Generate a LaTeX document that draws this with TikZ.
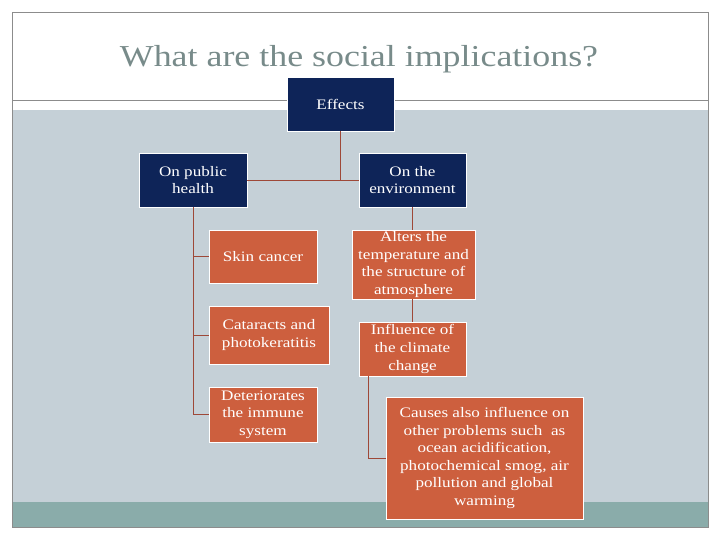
\documentclass[tikz,border=0pt]{standalone}
\usepackage{fontspec}
\setmainfont[FakeStretch=1.18]{Liberation Serif}
\definecolor{navyc}{RGB}{14,36,88}
\definecolor{orangec}{RGB}{205,95,62}
\definecolor{bgc}{RGB}{197,208,215}
\definecolor{tealc}{RGB}{138,172,170}
\definecolor{linkc}{RGB}{158,72,56}
\definecolor{framec}{RGB}{140,140,140}
\definecolor{titlec}{RGB}{120,139,138}
\begin{document}
\begin{tikzpicture}[x=1pt,y=-1pt,
  box/.style={draw=white,line width=0.8pt,align=center,text=white,inner sep=1pt,
    font=\fontsize{14.5}{17.6}\selectfont},
  navybox/.style={box,fill=navyc},
  orangebox/.style={box,fill=orangec},
  link/.style={draw=linkc,line width=0.9pt}]
\useasboundingbox (0,0) rectangle (720,540);
\fill[white] (0,0) rectangle (720,540);
% background regions
\fill[bgc] (12,110) rectangle (708,502);
\fill[tealc] (12,502) rectangle (708,527);
\draw[framec,line width=0.8pt] (12,12) rectangle (708,527);
\draw[framec,line width=0.8pt] (12,100) -- (708,100);
% title
\node[anchor=base,text=titlec,font=\fontsize{30.4}{36}\selectfont] (title) at (359,67) {What are the social implications?};
% nodes
\node[navybox,minimum width=107,minimum height=54] (effects) at (340.5,104) {Effects};
\node[navybox,minimum width=108,minimum height=54] (health) at (193,180) {On public\\health};
\node[navybox,minimum width=107,minimum height=54] (env) at (412.5,180) {On the\\environment};
\node[orangebox,minimum width=108,minimum height=53] (skin) at (263,256.5) {Skin cancer};
\node[orangebox,minimum width=120,minimum height=58] (cat) at (269,335) {Cataracts and\\photokeratitis};
\node[orangebox,minimum width=108,minimum height=55] (det) at (263,414.5) {Deteriorates\\the immune\\system};
\node[orangebox,minimum width=123,minimum height=69] (alters) at (413.5,264.5) {Alters the\\temperature and\\the structure of\\atmosphere};
\node[orangebox,minimum width=107,minimum height=54] (infl) at (412.5,349) {Influence of\\the climate\\change};
\node[orangebox,minimum width=197,minimum height=122] (causes) at (484.5,458) {Causes also influence on\\other problems such\ \ as\\ocean acidification,\\photochemical smog, air\\pollution and global\\warming};
% connectors
\draw[link] (effects.south) -- (effects.south |- health.east);
\draw[link] (health.east) -- (env.west);
\draw[link] (health.south) |- (det.west);
\draw[link] (health.south |- skin.west) -- (skin.west);
\draw[link] (health.south |- cat.west) -- (cat.west);
\draw[link] (env.south) -- (env.south |- alters.north);
\draw[link] (infl.north |- alters.south) -- (infl.north);
\draw[link] ([xshift=10pt]infl.south west) |- (causes.west);
\end{tikzpicture}
\end{document}
